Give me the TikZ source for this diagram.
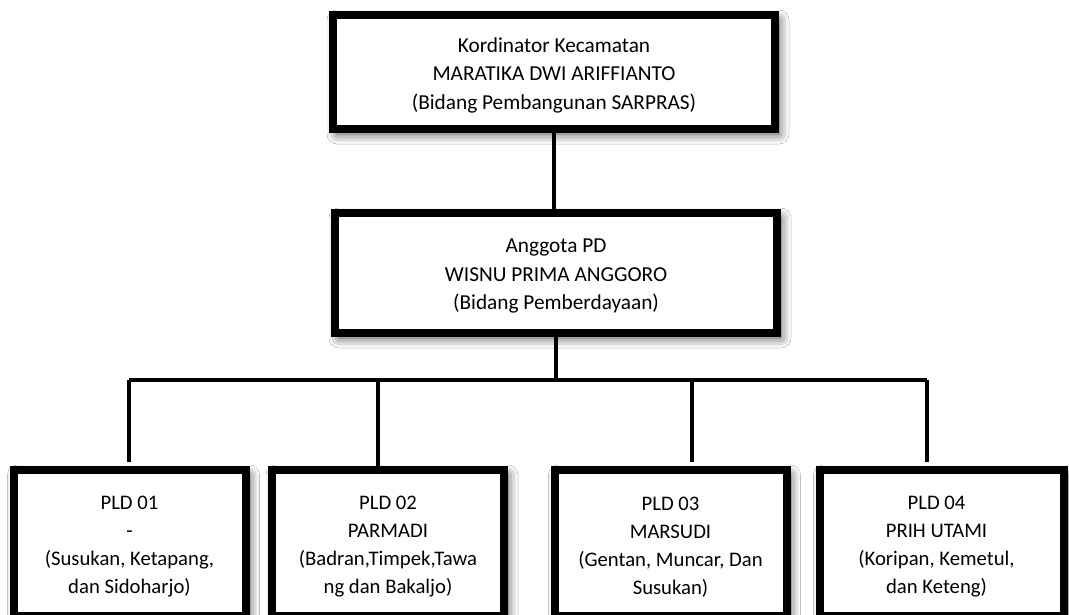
\documentclass[tikz,border=0pt]{standalone}
\usepackage{fontspec}
\setmainfont{Carlito}
\usetikzlibrary{shadows.blur}
\begin{document}
\begin{tikzpicture}[x=1pt,y=-1pt,
  box/.style={draw=black, line width=8pt, fill=white, inner sep=0pt,
    blur shadow={shadow xshift=4pt, shadow yshift=-5pt, shadow blur radius=10pt, shadow opacity=75}},
  bigtxt/.style={label={[align=center, font=\fontsize{21.3}{28.5}\selectfont, yshift=-3pt]center:{#1}}},
  smalltxt/.style={label={[align=center, font=\fontsize{20.7}{28}\selectfont, yshift=-4pt]center:{#1}}},
  smalltxtl/.style={label={[align=center, font=\fontsize{20.7}{28}\selectfont, yshift=-4pt, xshift=-5pt]center:{#1}}},
  conn/.style={draw=black, line width=3.3pt},
  trunk/.style={draw=black, line width=4.6pt}]
\useasboundingbox (0,0) rectangle (1069,615);
\fill[white] (0,0) rectangle (1069,615);
% boxes
\node[box, minimum width=442pt, minimum height=114pt,
  bigtxt={Kordinator Kecamatan\\MARATIKA DWI ARIFFIANTO\\(Bidang Pembangunan SARPRAS)}] (top) at (554,72) {};
\node[box, minimum width=442pt, minimum height=120pt,
  bigtxt={Anggota PD\\WISNU PRIMA ANGGORO\\(Bidang Pemberdayaan)}] (mid) at (556,273) {};
\node[box, minimum width=232pt, minimum height=146pt,
  smalltxt={PLD 01\\-\\(Susukan, Ketapang,\\dan Sidoharjo)}] (b1) at (129.5,543) {};
\node[box, minimum width=232pt, minimum height=146pt,
  smalltxt={PLD 02\\PARMADI\\(Badran,Timpek,Tawa\\ng dan Bakaljo)}] (b2) at (388,543) {};
\node[box, minimum width=232pt, minimum height=146pt,
  smalltxt={PLD 03\\MARSUDI\\(Gentan, Muncar, Dan\\Susukan)}] (b3) at (670.5,543) {};
\node[box, minimum width=244pt, minimum height=146pt,
  smalltxtl={PLD 04\\PRIH UTAMI\\(Koripan, Kemetul,\\dan Keteng)}] (b4) at (941.5,543) {};
% junctions
\coordinate (j0) at (555,380);
\coordinate (j1) at (129,380);
\coordinate (j2) at (378,380);
\coordinate (j3) at (692,380);
\coordinate (j4) at (927,380);
% connectors
\draw[trunk] (top.south) -- (top.south |- mid.north);
\draw[trunk] (mid.south) -- (mid.south |- j0);
\draw[conn, line join=round] (j1) -- (j4);
\draw[conn, shorten >=4pt] (j1) -- (j1 |- b1.north);
\draw[conn] (j2) -- (j2 |- b2.north);
\draw[conn, shorten >=4pt] (j3) -- (j3 |- b3.north);
\draw[conn, shorten >=4pt] (j4) -- (j4 |- b4.north);
\end{tikzpicture}
\end{document}
